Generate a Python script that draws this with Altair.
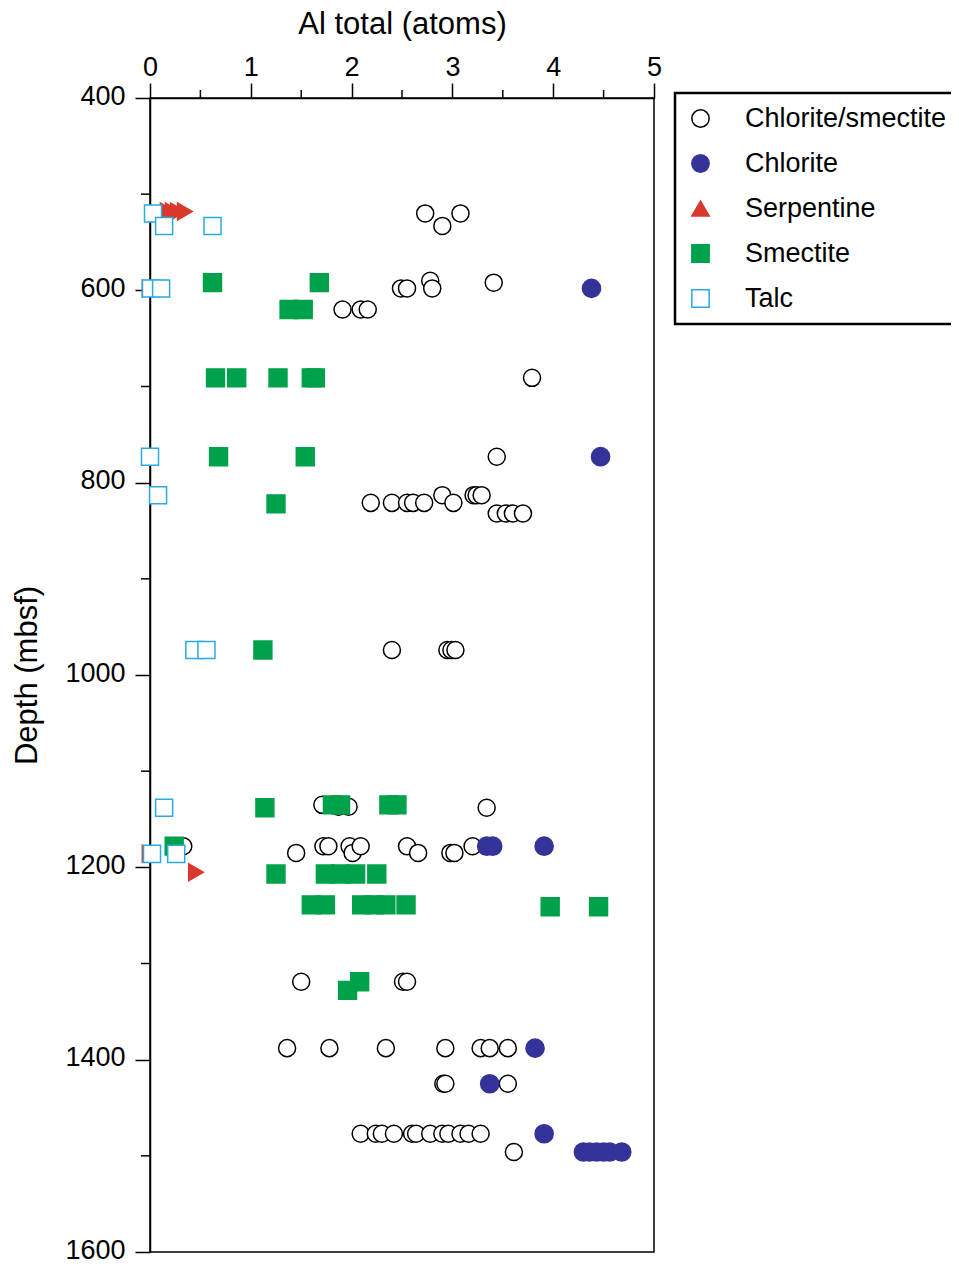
import altair as alt
import pandas as pd

FONT = "Liberation Sans"

CATEGORIES = ["Chlorite/smectite", "Chlorite", "Serpentine", "Smectite", "Talc"]
SHAPES = ["circle", "circle", "triangle-up", "square", "square"]
FILLS = ["white", "#333399", "#d8392b", "#00a14b", "white"]
STROKES = ["black", "#333399", "#d8392b", "#00a14b", "#29abe2"]

X_MAJOR = [0, 1, 2, 3, 4, 5]
X_MINOR = [0.5, 1.5, 2.5, 3.5, 4.5]
Y_MAJOR = [400, 600, 800, 1000, 1200, 1400, 1600]
Y_MINOR = [500, 700, 900, 1100, 1300, 1500]

# Chlorite/smectite
cs_al = [2.73, 2.90, 3.08,
         2.49, 2.55, 2.78, 2.80, 3.41,
         1.91, 2.09, 2.16,
         3.79,
         3.44,
         2.19, 2.40, 2.55, 2.61, 2.72, 2.90, 3.01, 3.21, 3.24, 3.29, 3.44, 3.53, 3.60, 3.70,
         2.40, 2.95, 2.99, 3.03,
         1.71, 1.87, 1.97, 3.34,
         0.33, 1.45, 1.72, 1.77, 1.98, 2.01, 2.09, 2.55, 2.66, 2.98, 3.02, 3.20,
         1.50, 2.51, 2.55,
         1.36, 1.78, 2.34, 2.93, 3.28, 3.37, 3.55,
         2.91, 2.93, 3.55,
         2.09, 2.24, 2.30, 2.42, 2.60, 2.64, 2.78, 2.90, 2.96, 3.08, 3.16, 3.28,
         3.61]
cs_depth = [520, 533, 520,
            598, 598, 590, 598, 592,
            620, 620, 620,
            691,
            773,
            821, 821, 821, 821, 821, 813, 821, 813, 813, 813, 832, 832, 832, 832,
            974, 974, 974, 974,
            1135, 1137, 1137, 1138,
            1178, 1185, 1178, 1178, 1178, 1185, 1178, 1178, 1185, 1185, 1185, 1178,
            1319, 1319, 1319,
            1388, 1388, 1388, 1388, 1388, 1388, 1388,
            1425, 1425, 1425,
            1477, 1477, 1477, 1477, 1477, 1477, 1477, 1477, 1477, 1477, 1477, 1477,
            1496]

# Chlorite
chl_al = [4.38, 4.47, 3.34, 3.40, 3.91, 3.82, 3.37, 3.91, 4.30, 4.36, 4.43, 4.50, 4.56, 4.68]
chl_depth = [598, 773, 1178, 1178, 1178, 1388, 1425, 1477, 1496, 1496, 1496, 1496, 1496, 1496]

# Serpentine
serp_al = [0.18, 0.23, 0.28, 0.35, 0.46, 0.0, 0.0]
serp_depth = [518, 518, 518, 518, 1205, 598, 1186]

# Smectite
sme_al = [0.62, 1.68, 1.38, 1.52,
          0.65, 0.86, 1.27, 1.60, 1.64,
          0.68, 1.54, 1.25,
          1.12,
          1.14, 1.81, 1.89, 2.37, 2.45,
          0.24,
          1.25, 1.74, 1.89, 2.04, 2.25,
          1.60, 1.74, 2.10, 2.22, 2.34, 2.54, 3.97, 4.45,
          2.08, 1.96]
sme_depth = [592, 592, 620, 620,
             691, 691, 691, 691, 691,
             773, 773, 822,
             974,
             1138, 1135, 1135, 1135, 1135,
             1178,
             1207, 1207, 1207, 1207, 1207,
             1239, 1239, 1239, 1239, 1239, 1239, 1241, 1241,
             1319, 1328]

# Talc
talc_al = [0.03, 0.14, 0.62, 0.01, 0.11, 0.0, 0.08, 0.44, 0.56, 0.14, 0.02, 0.26]
talc_depth = [520, 533, 533, 598, 598, 773, 813, 974, 974, 1138, 1186, 1186]


def frame(al, depth, name):
    return pd.DataFrame({"al": al, "depth": depth, "mineral": [name] * len(al)})


x_scale = alt.Scale(domain=[0, 5], nice=False, zero=False)
y_scale = alt.Scale(domain=[400, 1600], reverse=True, nice=False, zero=False)

x_axis = alt.Axis(orient="top", values=X_MAJOR, format="d", grid=False,
                  labelFlush=False, labelOverlap=False,
                  tickSize=15, tickWidth=1.5, tickColor="black",
                  domainWidth=1.5, domainColor="black",
                  labelFontSize=27, labelFont=FONT, labelColor="black", labelPadding=2,
                  titleFontSize=31, titleFont=FONT, titleFontWeight="normal",
                  titleColor="black", titlePadding=13)
y_axis = alt.Axis(orient="left", values=Y_MAJOR, format="d", grid=False,
                  labelFlush=False, labelOverlap=False, labelOffset=-2,
                  tickSize=15, tickWidth=1.5, tickColor="black",
                  domainWidth=1.5, domainColor="black",
                  labelFontSize=27, labelFont=FONT, labelColor="black", labelPadding=10,
                  titleFontSize=31, titleFont=FONT, titleFontWeight="normal",
                  titleColor="black", titlePadding=21)

legend = alt.Legend(title=None, orient="none", legendX=525, legendY=-5,
                    strokeColor="black", padding=12, symbolOffset=0,
                    labelOffset=31, rowPadding=17, labelFontSize=27,
                    labelFont=FONT, labelColor="black", symbolSize=300,
                    symbolStrokeWidth=1.5, labelLimit=400)

X_TITLE = "Al total (atoms)"
Y_TITLE = "Depth (mbsf)"


def point_layer(df, size):
    return alt.Chart(df).mark_point(filled=True, opacity=1, strokeWidth=1.5).encode(
        x=alt.X("al:Q", scale=x_scale, axis=x_axis, title=X_TITLE),
        y=alt.Y("depth:Q", scale=y_scale, axis=y_axis, title=Y_TITLE),
        shape=alt.Shape("mineral:N", scale=alt.Scale(domain=CATEGORIES, range=SHAPES), legend=legend),
        fill=alt.Fill("mineral:N", scale=alt.Scale(domain=CATEGORIES, range=FILLS), legend=legend),
        stroke=alt.Stroke("mineral:N", scale=alt.Scale(domain=CATEGORIES, range=STROKES), legend=legend),
        size=alt.value(size),
    )


serp = alt.Chart(frame(serp_al, serp_depth, "Serpentine")).mark_point(
    filled=True, opacity=1, shape="triangle-right", color="#d8392b", strokeWidth=0
).encode(
    x=alt.X("al:Q", scale=x_scale, title=X_TITLE),
    y=alt.Y("depth:Q", scale=y_scale, title=Y_TITLE),
    size=alt.value(380),
)

cs = point_layer(frame(cs_al, cs_depth, "Chlorite/smectite"), 290)
chl = point_layer(frame(chl_al, chl_depth, "Chlorite"), 330)
sme = point_layer(frame(sme_al, sme_depth, "Smectite"), 320)
talc = point_layer(frame(talc_al, talc_depth, "Talc"), 290)

x_minor = alt.Chart(pd.DataFrame({"v": X_MINOR})).mark_rule(color="black", strokeWidth=1.5).encode(
    x=alt.X("v:Q", scale=x_scale, title=X_TITLE),
    y=alt.value(0), y2=alt.value(-8),
)
y_minor = alt.Chart(pd.DataFrame({"v": Y_MINOR})).mark_rule(color="black", strokeWidth=1.5).encode(
    y=alt.Y("v:Q", scale=y_scale, title=Y_TITLE),
    x=alt.value(0), x2=alt.value(-9),
)

chart = alt.layer(cs, chl, serp, sme, talc, x_minor, y_minor).properties(
    width=504, height=1154,
    autosize=alt.AutoSizeParams(type="none"),
    padding={"left": 142, "top": 90, "right": 297, "bottom": 8},
    background="white",
).configure(font=FONT).configure_view(
    stroke="black", strokeWidth=1.5
).configure_legend(strokeWidth=2.5)

chart.save("out.html", embed_options={"renderer": "svg", "actions": False})
